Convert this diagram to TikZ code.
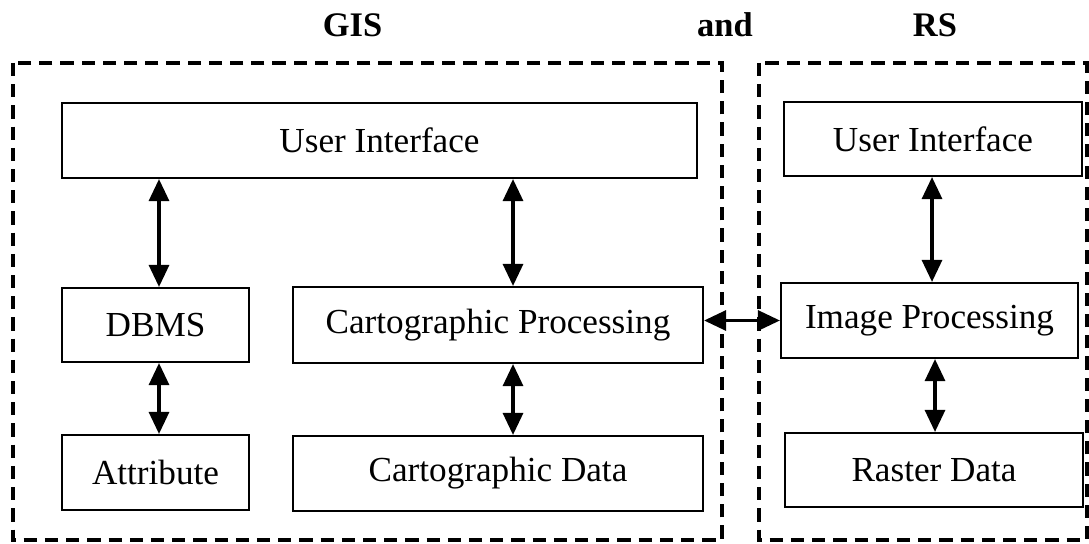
\documentclass[tikz,border=0pt]{standalone}
\usepackage{fontspec}
\setmainfont{Liberation Serif}
\usetikzlibrary{arrows.meta, positioning}

\begin{document}
\begin{tikzpicture}[x=0.025cm, y=-0.025cm,
    font=\fontsize{25}{28}\selectfont,
    box/.style={draw, line width=1.5pt, inner sep=0pt},
    frame/.style={draw, line width=2.6pt, dash pattern=on 0.33cm off 0.2cm},
    link/.style={line width=2.2pt, {Triangle[length=0.55cm, width=0.5cm]}-{Triangle[length=0.55cm, width=0.5cm]}},
    head/.style={font=\fontsize{24.5}{28}\selectfont\bfseries}]
    \useasboundingbox (0,0) rectangle (1089,544);
    % Frames
    \draw[frame] (13,63) rectangle (722,540);
    \draw[frame] (759,63) rectangle (1087,540);
    % Headings
    \node[head] (gis) at (352.5,25) {GIS};
    \node[head] (and) at (725,25) {and};
    \node[head] (rs) at (935,25) {RS};
    % GIS side
    \node[box, minimum width=15.875cm, minimum height=1.875cm] (uil) at (379.5,140.5) {User Interface};
    \node[box, minimum width=4.675cm, minimum height=1.85cm] (dbms) at (155.5,325) {DBMS};
    \node[box, minimum width=10.25cm, minimum height=1.9cm] (cp) at (498,325) {Cartographic Processing};
    \node[box, minimum width=4.675cm, minimum height=1.875cm] (attr) at (155.5,472.5) {Attribute};
    \node[box, minimum width=10.25cm, minimum height=1.875cm] (cd) at (498,473.5) {Cartographic Data};
    % RS side
    \node[box, minimum width=7.45cm, minimum height=1.85cm] (uir) at (933,139) {User Interface};
    \node[box, minimum width=7.425cm, minimum height=1.875cm] (ip) at (929.5,320.5) {Image Processing};
    \node[box, minimum width=7.45cm, minimum height=1.85cm] (rd) at (934,470) {Raster Data};
    % Connectors
    \coordinate (c1) at (159,0);
    \coordinate (c2) at (513,0);
    \coordinate (c3) at (932,0);
    \coordinate (c4) at (935,0);
    \draw[link] (uil.south -| c1) -- (dbms.north -| c1);
    \draw[link] (dbms.south -| c1) -- (attr.north -| c1);
    \draw[link] (uil.south -| c2) -- (cp.north -| c2);
    \draw[link] (cp.south -| c2) -- (cd.north -| c2);
    \draw[link] (uir.south -| c3) -- (ip.north -| c3);
    \draw[link] (ip.south -| c4) -- (rd.north -| c4);
    \draw[link] (cp.east |- ip.west) -- (ip.west);
\end{tikzpicture}
\end{document}
